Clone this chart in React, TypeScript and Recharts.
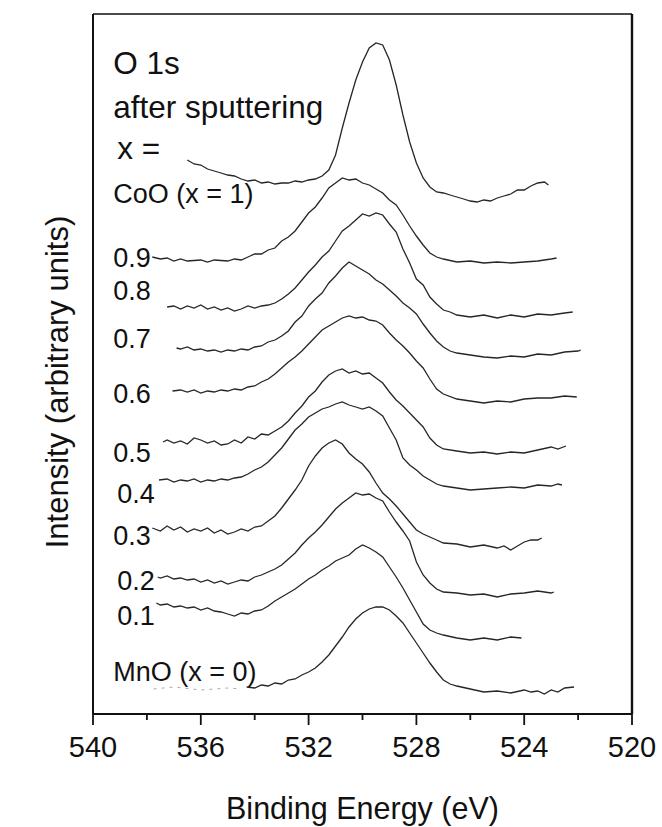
import React from 'react';
import { LineChart, Line, XAxis, YAxis, ReferenceDot, ReferenceLine } from 'recharts';

// binding energy (eV), intensity (arb. units)
const cooCurve = [
  [536.5, 110.8], [536.25, 110.0], [536.0, 109.8], [535.75, 109.0], [535.5, 108.6], [535.25, 108.2],
  [535.0, 107.8], [534.75, 107.6], [534.5, 107.0], [534.25, 106.6], [534.0, 106.8], [533.75, 106.2],
  [533.5, 106.4], [533.25, 106.0], [533.0, 106.2], [532.75, 106.2], [532.5, 106.6], [532.25, 106.4],
  [532.0, 106.8], [531.75, 107.0], [531.5, 107.6], [531.25, 108.8], [531.0, 111.8], [530.75, 117.2],
  [530.5, 122.2], [530.25, 126.8], [530.0, 130.4], [529.75, 133.2], [529.5, 134.2], [529.25, 133.8],
  [529.0, 130.8], [528.75, 125.8], [528.5, 119.8], [528.25, 114.4], [528.0, 110.2], [527.75, 107.2],
  [527.5, 105.4], [527.25, 104.4], [527.0, 104.2], [526.75, 103.8], [526.5, 103.4], [526.25, 103.0],
  [526.0, 102.6], [525.75, 102.4], [525.5, 102.8], [525.25, 102.6], [525.0, 103.2], [524.75, 103.6],
  [524.5, 104.0], [524.25, 104.8], [524.0, 104.8], [523.75, 105.6], [523.5, 106.2], [523.25, 106.4],
  [523.1, 105.8],
];

const x09 = [
  [537.8, 91.4], [537.5, 91.0], [537.25, 91.2], [537.0, 90.6], [536.75, 91.0], [536.5, 90.6],
  [536.0, 90.8], [535.75, 90.4], [535.5, 90.8], [535.0, 90.6], [534.75, 91.0], [534.5, 90.8],
  [534.25, 91.4], [534.0, 92.0], [533.75, 92.0], [533.5, 92.8], [533.25, 93.2], [533.0, 94.6],
  [532.75, 95.4], [532.5, 96.6], [532.25, 98.4], [532.0, 100.2], [531.75, 101.4], [531.5, 103.2],
  [531.25, 105.2], [531.0, 106.2], [530.75, 107.2], [530.5, 106.8], [530.25, 107.0], [530.0, 106.2],
  [529.75, 105.8], [529.5, 105.0], [529.25, 104.2], [529.0, 102.8], [528.75, 101.8], [528.5, 99.8],
  [528.25, 97.6], [528.0, 95.6], [527.75, 93.8], [527.5, 92.2], [527.25, 91.4], [527.0, 91.0],
  [526.5, 90.4], [526.0, 90.6], [525.5, 90.2], [525.0, 90.4], [524.5, 90.2], [524.0, 90.4],
  [523.5, 90.6], [523.0, 91.0], [522.8, 91.2],
];

const x08 = [
  [537.25, 81.4], [537.0, 81.6], [536.75, 81.0], [536.5, 81.6], [536.25, 81.2], [536.0, 81.8],
  [535.75, 81.0], [535.5, 81.4], [535.25, 80.8], [535.0, 81.2], [534.75, 80.6], [534.5, 81.0],
  [534.25, 81.6], [534.0, 81.2], [533.75, 81.6], [533.5, 81.8], [533.25, 82.2], [533.0, 83.0],
  [532.75, 84.0], [532.5, 85.2], [532.25, 86.8], [532.0, 88.4], [531.75, 89.8], [531.5, 91.4],
  [531.25, 92.6], [531.0, 94.6], [530.75, 96.6], [530.5, 97.6], [530.25, 98.8], [530.0, 100.0],
  [529.75, 99.6], [529.5, 100.2], [529.25, 99.8], [529.0, 98.0], [528.75, 96.4], [528.5, 93.0],
  [528.25, 90.2], [528.0, 87.0], [527.75, 85.8], [527.5, 83.4], [527.25, 82.0], [527.0, 80.8],
  [526.75, 80.4], [526.5, 79.8], [526.0, 79.4], [525.5, 79.8], [525.0, 79.2], [524.5, 79.8],
  [524.0, 79.4], [523.5, 80.0], [523.0, 79.8], [522.5, 80.2], [522.2, 80.4],
];

const x07 = [
  [536.9, 73.2], [536.75, 73.0], [536.5, 73.4], [536.25, 72.8], [536.0, 73.0], [535.75, 72.6],
  [535.5, 72.8], [535.25, 72.4], [535.0, 72.8], [534.75, 72.6], [534.5, 73.0], [534.25, 72.8],
  [534.0, 73.4], [533.75, 73.6], [533.5, 74.4], [533.25, 74.8], [533.0, 75.6], [532.75, 76.6],
  [532.5, 78.4], [532.25, 79.6], [532.0, 81.6], [531.75, 83.0], [531.5, 84.2], [531.25, 86.2],
  [531.0, 87.6], [530.75, 89.2], [530.5, 90.4], [530.25, 89.6], [530.0, 88.8], [529.75, 88.0],
  [529.5, 86.8], [529.25, 86.0], [529.0, 84.8], [528.75, 83.6], [528.5, 82.2], [528.25, 81.2],
  [528.0, 80.0], [527.75, 78.0], [527.5, 76.2], [527.25, 74.6], [527.0, 73.4], [526.75, 72.6],
  [526.5, 72.2], [526.0, 71.8], [525.5, 71.4], [525.0, 71.2], [524.5, 71.6], [524.0, 71.4],
  [523.5, 72.0], [523.0, 71.8], [522.5, 72.4], [522.0, 72.6], [521.9, 72.8],
];

const x06 = [
  [537.05, 64.6], [536.75, 64.8], [536.5, 64.4], [536.25, 64.8], [536.0, 64.2], [535.75, 64.6],
  [535.5, 64.4], [535.25, 64.8], [535.0, 64.6], [534.75, 65.0], [534.5, 64.8], [534.25, 65.4],
  [534.0, 65.6], [533.75, 66.4], [533.5, 67.0], [533.25, 68.0], [533.0, 69.2], [532.75, 70.4],
  [532.5, 71.4], [532.25, 72.6], [532.0, 74.0], [531.75, 75.4], [531.5, 76.8], [531.25, 77.6],
  [531.0, 78.4], [530.75, 79.2], [530.5, 79.6], [530.25, 79.2], [530.0, 79.4], [529.75, 78.8],
  [529.5, 78.6], [529.25, 77.8], [529.0, 76.2], [528.75, 74.8], [528.5, 73.6], [528.25, 72.2],
  [528.0, 70.6], [527.75, 69.2], [527.5, 67.0], [527.25, 65.0], [527.0, 64.0], [526.5, 63.0],
  [526.0, 62.6], [525.5, 62.2], [525.0, 62.6], [524.5, 62.4], [524.0, 63.0], [523.5, 63.2],
  [523.0, 63.2], [522.5, 63.6], [522.05, 63.4],
];

const x05 = [
  [537.4, 54.4], [537.25, 54.8], [537.0, 54.2], [536.75, 54.6], [536.5, 54.0], [536.25, 55.2],
  [536.0, 54.8], [535.75, 54.2], [535.5, 54.6], [535.25, 53.8], [535.0, 54.0], [534.75, 54.8],
  [534.5, 54.2], [534.25, 55.4], [534.0, 55.0], [533.75, 56.0], [533.5, 55.8], [533.25, 56.6],
  [533.0, 57.4], [532.75, 58.6], [532.5, 60.2], [532.25, 61.6], [532.0, 63.4], [531.75, 64.6],
  [531.5, 66.4], [531.25, 67.8], [531.0, 68.6], [530.75, 69.0], [530.5, 68.2], [530.25, 68.6],
  [530.0, 68.0], [529.75, 68.2], [529.5, 67.2], [529.25, 66.2], [529.0, 64.4], [528.75, 62.8],
  [528.5, 61.6], [528.25, 60.2], [528.0, 58.8], [527.75, 57.4], [527.5, 55.2], [527.25, 53.8],
  [527.0, 53.0], [526.5, 52.6], [526.0, 52.2], [525.5, 52.4], [525.0, 52.0], [524.5, 52.4],
  [524.0, 52.2], [523.5, 52.8], [523.0, 53.4], [522.75, 53.0], [522.45, 53.6],
];

const x04 = [
  [537.55, 46.8], [537.25, 47.0], [537.0, 46.4], [536.75, 46.8], [536.5, 46.6], [536.25, 47.0],
  [536.0, 46.4], [535.75, 46.8], [535.5, 46.6], [535.25, 47.0], [535.0, 46.8], [534.75, 47.2],
  [534.5, 47.4], [534.25, 48.0], [534.0, 48.8], [533.75, 49.4], [533.5, 50.4], [533.25, 51.8],
  [533.0, 53.2], [532.75, 55.0], [532.5, 56.8], [532.25, 58.0], [532.0, 59.4], [531.75, 60.2],
  [531.5, 61.0], [531.25, 61.4], [531.0, 62.0], [530.75, 62.4], [530.5, 61.8], [530.25, 61.4],
  [530.0, 61.0], [529.75, 61.4], [529.5, 60.6], [529.25, 59.6], [529.0, 57.2], [528.75, 54.8],
  [528.5, 51.2], [528.25, 49.8], [528.0, 48.8], [527.75, 47.6], [527.5, 46.8], [527.25, 46.0],
  [527.0, 45.6], [526.5, 45.2], [526.0, 44.8], [525.5, 45.0], [525.0, 45.2], [524.5, 45.4],
  [524.0, 45.2], [523.5, 45.8], [523.0, 45.6], [522.75, 46.0], [522.6, 45.8],
];

const x03 = [
  [537.8, 37.2], [537.5, 36.6], [537.25, 37.6], [537.0, 36.8], [536.75, 37.4], [536.5, 36.4],
  [536.25, 37.0], [536.0, 36.6], [535.75, 37.2], [535.5, 36.2], [535.25, 36.8], [535.0, 36.0],
  [534.75, 36.4], [534.5, 37.0], [534.25, 36.6], [534.0, 37.4], [533.75, 37.6], [533.5, 38.6],
  [533.25, 39.6], [533.0, 41.2], [532.75, 43.0], [532.5, 44.8], [532.25, 46.8], [532.0, 49.6],
  [531.75, 51.6], [531.5, 53.2], [531.25, 54.2], [531.0, 54.8], [530.75, 54.0], [530.5, 52.2],
  [530.25, 51.0], [530.0, 50.0], [529.75, 48.4], [529.5, 46.2], [529.25, 44.2], [529.0, 43.0],
  [528.75, 41.6], [528.5, 40.0], [528.25, 38.4], [528.0, 36.8], [527.75, 36.0], [527.5, 35.4],
  [527.25, 34.8], [527.0, 34.2], [526.5, 34.0], [526.0, 33.4], [525.5, 33.8], [525.0, 33.2],
  [524.75, 33.6], [524.5, 32.8], [524.0, 34.4], [523.75, 34.8], [523.5, 34.8], [523.35, 35.2],
];

const x02 = [
  [537.6, 27.4], [537.5, 27.2], [537.25, 27.6], [537.0, 27.0], [536.75, 27.2], [536.5, 26.8],
  [536.25, 27.0], [536.0, 26.4], [535.75, 26.8], [535.5, 26.2], [535.25, 26.6], [535.0, 26.0],
  [534.75, 26.4], [534.5, 26.8], [534.25, 26.6], [534.0, 27.4], [533.75, 27.8], [533.5, 28.4],
  [533.25, 29.0], [533.0, 29.8], [532.75, 31.0], [532.5, 32.2], [532.25, 33.8], [532.0, 35.2],
  [531.75, 36.4], [531.5, 37.8], [531.25, 39.4], [531.0, 41.0], [530.75, 42.2], [530.5, 43.2],
  [530.25, 44.2], [530.0, 43.8], [529.75, 44.0], [529.5, 43.2], [529.25, 42.6], [529.0, 40.4],
  [528.75, 38.4], [528.5, 36.6], [528.25, 34.6], [528.0, 30.4], [527.75, 27.8], [527.5, 26.2],
  [527.25, 25.0], [527.0, 24.4], [526.5, 24.2], [526.0, 23.8], [525.5, 24.0], [525.0, 23.4],
  [524.5, 24.0], [524.0, 24.2], [523.5, 24.6], [523.0, 24.2], [522.9, 24.4],
];

const x01 = [
  [537.65, 22.2], [537.5, 21.8], [537.25, 22.0], [537.0, 21.4], [536.75, 21.6], [536.5, 21.2],
  [536.25, 21.4], [536.0, 20.8], [535.75, 21.2], [535.5, 20.6], [535.25, 20.4], [535.0, 20.0],
  [534.75, 19.6], [534.5, 20.2], [534.25, 20.0], [534.0, 20.6], [533.75, 20.8], [533.5, 21.6],
  [533.25, 22.6], [533.0, 23.4], [532.75, 24.2], [532.5, 25.0], [532.25, 26.0], [532.0, 27.0],
  [531.75, 27.8], [531.5, 28.8], [531.25, 29.6], [531.0, 30.6], [530.75, 31.2], [530.5, 31.8],
  [530.25, 33.0], [530.0, 33.8], [529.75, 33.2], [529.5, 32.4], [529.25, 31.4], [529.0, 29.4],
  [528.75, 27.4], [528.5, 25.2], [528.25, 22.8], [528.0, 20.4], [527.75, 18.0], [527.5, 16.8],
  [527.25, 16.2], [527.0, 15.8], [526.5, 15.2], [526.0, 14.8], [525.5, 15.2], [525.0, 14.8],
  [524.5, 15.4], [524.1, 15.2],
];

const mnoCurve = [
  [534.3, 5.4], [534.0, 5.2], [533.75, 5.8], [533.5, 5.6], [533.25, 6.2], [533.0, 6.0],
  [532.75, 6.8], [532.5, 7.0], [532.25, 7.8], [532.0, 8.4], [531.75, 9.2], [531.5, 10.4],
  [531.25, 11.8], [531.0, 13.6], [530.75, 15.4], [530.5, 17.4], [530.25, 19.0], [530.0, 20.2],
  [529.75, 21.0], [529.5, 21.4], [529.25, 21.4], [529.0, 20.8], [528.75, 19.6], [528.5, 18.2],
  [528.25, 16.2], [528.0, 14.2], [527.75, 12.2], [527.5, 10.2], [527.25, 8.4], [527.0, 6.8],
  [526.75, 6.0], [526.5, 5.6], [526.0, 5.0], [525.5, 4.4], [525.0, 4.6], [524.5, 4.2],
  [524.0, 4.8], [523.75, 4.4], [523.5, 4.6], [523.25, 4.0], [523.0, 4.8], [522.75, 4.4],
  [522.5, 5.2], [522.15, 5.4],
];

// faint, broken start of the MnO trace (mostly hidden under its label)
const mnoFaint = [[537.75, 5.0], [537.0, 5.4], [536.0, 4.8], [535.0, 5.2], [534.5, 5.0]];

const energyTicks = [540, 538, 536, 534, 532, 530, 528, 526, 524, 522, 520];

const series = [cooCurve, x09, x08, x07, x06, x05, x04, x03, x02, x01, mnoCurve];

// annotation text: [text, energy, intensity, font size]
const notes: [string, number, number, number][] = [
  ['O 1s', 539.25, 130.2, 31.5],
  ['after sputtering', 539.25, 121.4, 31.5],
  ['x =', 539.1, 113.2, 31.5],
  ['CoO (x = 1)', 539.25, 104.2, 27],
  ['0.9', 539.25, 91.4, 27],
  ['0.8', 539.25, 84.8, 27],
  ['0.7', 539.25, 75.2, 27],
  ['0.6', 539.25, 64.2, 27],
  ['0.5', 539.25, 52.4, 27],
  ['0.4', 539.1, 44.2, 27],
  ['0.3', 539.25, 35.8, 27],
  ['0.2', 539.1, 26.8, 27],
  ['0.1', 539.1, 19.8, 27],
  ['MnO (x = 0)', 539.25, 8.6, 27],
];

const FONT = '"Liberation Sans", Arial, sans-serif';
const INK = '#111';

const toPts = (arr: number[][]) => arr.map(([e, i]) => ({ e, i }));

const EnergyTick = ({ x, y, payload }: any) => {
  const major = payload.value % 4 === 0;
  return (
    <g>
      <line x1={x} y1={y} x2={x} y2={y + (major ? 11 : 6)} stroke={INK} strokeWidth={1.8} />
      {major && (
        <text x={x} y={y + 43} textAnchor="middle" fontSize={29} fontFamily={FONT} fill={INK}>
          {payload.value}
        </text>
      )}
    </g>
  );
};

// both axis titles, placed relative to the bottom axis box
const AxisTitles = ({ viewBox }: any) => {
  const yx = viewBox.x - 25;
  const yy = viewBox.y - 332;
  return (
    <g>
      <text
        x={viewBox.x + viewBox.width / 2}
        y={viewBox.y + 105}
        textAnchor="middle"
        fontSize={30.5}
        fontFamily={FONT}
        fill={INK}
      >
        Binding Energy (eV)
      </text>
      <text
        x={yx}
        y={yy}
        transform={`rotate(-90 ${yx} ${yy})`}
        textAnchor="middle"
        fontSize={31}
        fontFamily={FONT}
        fill={INK}
      >
        Intensity (arbitrary units)
      </text>
    </g>
  );
};

const App: React.FC = () => {
  return (
    <div style={{ position: 'absolute', left: 0, top: 0, background: '#fff' }}>
      <LineChart width={662} height={827} margin={{ top: 14, right: 30, bottom: 0, left: 93 }}>
        <XAxis
          xAxisId="b"
          dataKey="e"
          type="number"
          domain={[520, 540]}
          reversed
          ticks={energyTicks}
          interval={0}
          allowDataOverflow
          height={113}
          tickLine={false}
          tickSize={0}
          tickMargin={0}
          axisLine={{ stroke: INK, strokeWidth: 2 }}
          tick={<EnergyTick />}
          label={<AxisTitles />}
        />
        <YAxis yAxisId="l" type="number" domain={[0, 140]} allowDataOverflow hide />
        <ReferenceLine xAxisId="b" yAxisId="l" x={540} stroke={INK} strokeWidth={2} />
        <ReferenceLine xAxisId="b" yAxisId="l" x={520} stroke={INK} strokeWidth={2.4} />
        <ReferenceLine xAxisId="b" yAxisId="l" y={140} stroke={INK} strokeWidth={1.6} />
        <Line
          xAxisId="b"
          yAxisId="l"
          data={toPts(mnoFaint)}
          dataKey="i"
          type="linear"
          dot={false}
          stroke="#aaa"
          strokeWidth={1}
          strokeDasharray="3 5"
          isAnimationActive={false}
        />
        {series.map((s, k) => (
          <Line
            key={k}
            xAxisId="b"
            yAxisId="l"
            data={toPts(s)}
            dataKey="i"
            type="linear"
            dot={false}
            stroke="#262626"
            strokeWidth={1.3}
            isAnimationActive={false}
          />
        ))}
        {notes.map(([text, e, i, size]) => (
          <ReferenceDot
            key={text}
            xAxisId="b"
            yAxisId="l"
            x={e}
            y={i}
            r={0}
            fill="none"
            stroke="none"
            label={{
              value: text,
              position: 'right',
              offset: 0,
              fontSize: size,
              fontFamily: FONT,
              fill: INK,
            }}
          />
        ))}
      </LineChart>
    </div>
  );
};

export default App;
